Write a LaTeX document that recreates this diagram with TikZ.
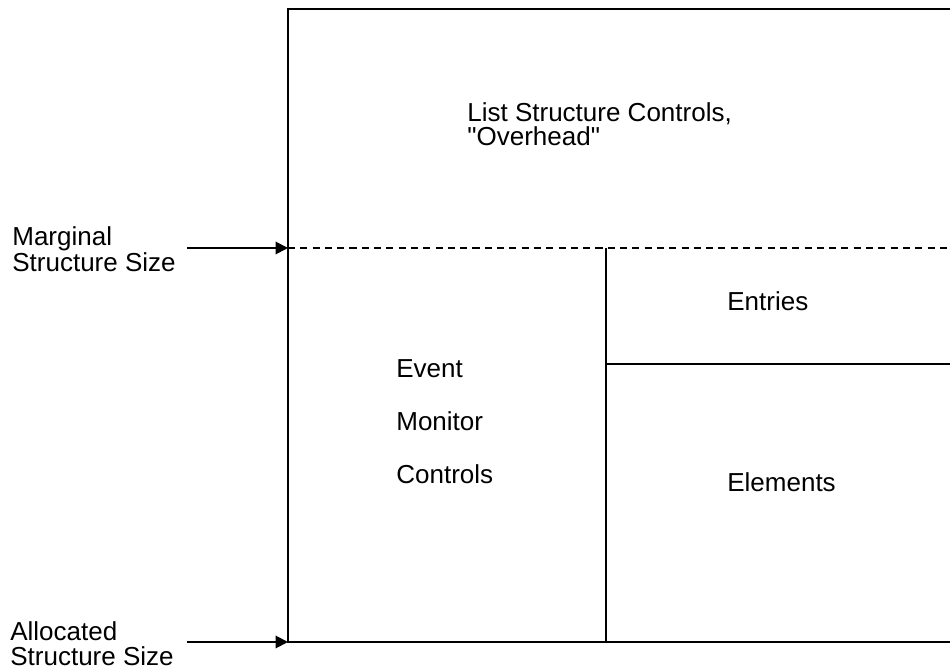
\documentclass[tikz,border=0pt]{standalone}
\usepackage{fontspec}
\setmainfont{Liberation Sans}[Ligatures=TeXOff]
\usetikzlibrary{arrows.meta,positioning}

\begin{document}
\begin{tikzpicture}[x=0.02cm,y=-0.02cm,
    rule/.style={line width=1.1pt},
    pointer/.style={line width=1.1pt,-{Triangle[length=0.25cm,width=0.25cm]}},
    txt/.style={inner sep=0pt,anchor=base west,align=left,font=\fontsize{14.8pt}{13.7pt}\selectfont},
    wide/.style={txt,font=\fontsize{14.8pt}{30.2pt}\selectfont}]
    \useasboundingbox (0,0) rectangle (950,671);

    \coordinate (tl) at (288,9);   \coordinate (tr) at (950,9);
    \coordinate (ml) at (288,248); \coordinate (mr) at (950,248);
    \coordinate (bl) at (288,642); \coordinate (br) at (950,642);
    \coordinate (split) at (606,248); \coordinate (splitb) at (606,642);
    \coordinate (shelf) at (606,364); \coordinate (shelfr) at (950,364);
    \coordinate (margtail) at (187,248); \coordinate (alloctail) at (187,642);

    \draw [rule] (tr) -- (tl) -- (bl) -- (br); % allocated block
    \draw [rule, dash pattern=on 4pt off 3pt] (ml) -- (mr); % marginal size
    \draw [rule] (split) -- (splitb);
    \draw [rule] (shelf) -- (shelfr);

    \draw [pointer] (margtail) -- (ml);
    \draw [pointer] (alloctail) -- (bl);

    % base anchor sits on the last line
    \node [txt] (ovh) at (467,146) {List Structure Controls,\\"Overhead"};
    \node [txt] (marg) at (12,272) {Marginal\\Structure Size};
    \node [txt] (alloc) at (10,665) {Allocated\\Structure Size};
    \node [wide] (evmon) at (396,484) {Event\\Monitor\\Controls};
    \node [txt] (entries) at (727,311) {Entries};
    \node [txt] (elems) at (727,492) {Elements};
\end{tikzpicture}
\end{document}
